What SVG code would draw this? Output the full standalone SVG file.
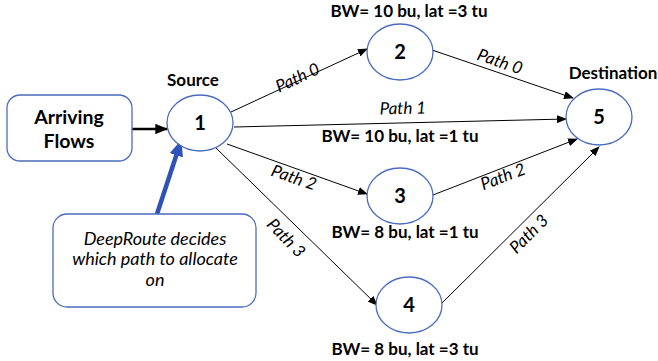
<svg xmlns="http://www.w3.org/2000/svg" width="658" height="361" viewBox="0 0 658 361">
  <style>
    .node { fill: #ffffff; stroke: #4a6cc0; stroke-width: 1.3; }
    .box { fill: #ffffff; stroke: #4a6cc0; stroke-width: 1.3; }
    .num { font-family: Lato, "Liberation Sans", sans-serif; font-weight: bold; font-size: 20px; text-anchor: middle; fill: #000; }
    .lbl { font-family: Lato, "Liberation Sans", sans-serif; font-weight: bold; font-size: 17px; text-anchor: middle; fill: #000; }
    .path { font-family: Lato, "Liberation Sans", sans-serif; font-style: italic; font-size: 17px; text-anchor: middle; fill: #000; }
    .note { font-family: Lato, "Liberation Sans", sans-serif; font-style: italic; font-size: 18px; text-anchor: middle; fill: #000; }
    .edge { stroke: #000; stroke-width: 1; fill: none; marker-end: url(#tip); }
  </style>
  <defs>
    <marker id="tip" markerWidth="10" markerHeight="8" refX="9" refY="4" orient="auto" markerUnits="userSpaceOnUse">
      <path d="M0,0 L10,4 L0,8 Z" fill="#000"/>
    </marker>
    <marker id="tipBold" markerWidth="5" markerHeight="4" refX="4.5" refY="2" orient="auto">
      <path d="M0,0 L5,2 L0,4 Z" fill="#000"/>
    </marker>
    <marker id="tipBlue" markerWidth="16" markerHeight="14" refX="15" refY="7" orient="auto" markerUnits="userSpaceOnUse">
      <path d="M0,0 L16,7 L0,14 Z" fill="#2f52b8"/>
    </marker>
  </defs>

  <!-- connectors -->
  <g id="connectors">
    <line class="edge" x1="231" y1="112" x2="367" y2="49"/>
    <line class="edge" x1="432" y1="50" x2="573" y2="98"/>
    <line class="edge" x1="234" y1="127" x2="566" y2="119"/>
    <line class="edge" x1="227" y1="144" x2="367" y2="194"/>
    <line class="edge" x1="433" y1="195" x2="577" y2="139"/>
    <line class="edge" x1="216" y1="148" x2="377" y2="305"/>
    <line class="edge" x1="442" y1="303" x2="599" y2="147"/>
    <line x1="126" y1="129" x2="167" y2="129" stroke="#000" stroke-width="2.6" marker-end="url(#tipBold)"/>
    <line x1="157" y1="214" x2="181" y2="141" stroke="#2f52b8" stroke-width="4.5" marker-end="url(#tipBlue)"/>
  </g>

  <!-- edge labels -->
  <g id="edge-labels">
    <text class="path" transform="translate(300,83) rotate(-25)">Path 0</text>
    <text class="path" transform="translate(498,67) rotate(19)">Path 0</text>
    <text class="path" transform="translate(403,114) rotate(-1)">Path 1</text>
    <text class="path" transform="translate(292,183) rotate(19)">Path 2</text>
    <text class="path" transform="translate(505,182) rotate(-21)">Path 2</text>
    <text class="path" transform="translate(282,242) rotate(46)">Path 3</text>
    <text class="path" transform="translate(533,238) rotate(-45)">Path 3</text>
  </g>

  <g id="arriving-flows">
    <rect class="box" x="7" y="95" width="125" height="66" rx="13"/>
    <text class="lbl" x="69" y="124" style="font-size:19.5px">Arriving</text>
    <text class="lbl" x="69" y="148" style="font-size:19.5px">Flows</text>
  </g>

  <g id="deeproute">
    <rect class="box" x="53" y="214" width="203" height="93" rx="14"/>
    <text class="note" x="155" y="245">DeepRoute decides</text>
    <text class="note" x="155" y="265">which path to allocate</text>
    <text class="note" x="155" y="286">on</text>
  </g>

  <g id="node-1">
    <ellipse class="node" cx="200" cy="123" rx="33" ry="28"/>
    <text class="num" x="200" y="130">1</text>
    <text class="lbl" x="193" y="86">Source</text>
  </g>

  <g id="node-2">
    <ellipse class="node" cx="400" cy="52" rx="33" ry="28"/>
    <text class="num" x="400" y="59">2</text>
    <text class="lbl" x="409" y="17">BW= 10 bu, lat =3 tu</text>
  </g>

  <g id="node-5">
    <ellipse class="node" cx="599" cy="117" rx="33" ry="28"/>
    <text class="num" x="599" y="124">5</text>
    <text class="lbl" x="613" y="79">Destination</text>
  </g>

  <g id="node-1-5-label">
    <text class="lbl" x="400" y="142">BW= 10 bu, lat =1 tu</text>
  </g>

  <g id="node-3">
    <ellipse class="node" cx="400" cy="196" rx="33" ry="28"/>
    <text class="num" x="400" y="203">3</text>
    <text class="lbl" x="405" y="238">BW= 8 bu, lat =1 tu</text>
  </g>

  <g id="node-4">
    <ellipse class="node" cx="409" cy="305" rx="33" ry="28"/>
    <text class="num" x="409" y="312">4</text>
    <text class="lbl" x="405" y="355">BW= 8 bu, lat =3 tu</text>
  </g>
</svg>
